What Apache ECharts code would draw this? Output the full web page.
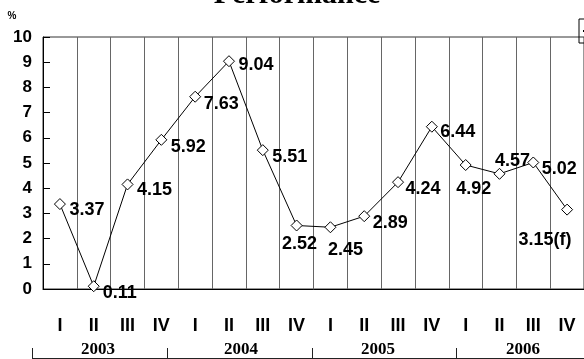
<!DOCTYPE html>
<html>
<head>
<meta charset="utf-8">
<script src="https://cdn.jsdelivr.net/npm/echarts@6/dist/echarts.min.js"></script>
<style>
  html, body { margin: 0; padding: 0; background: #fff; }
  #chart { width: 584px; height: 359px; }
</style>
</head>
<body>
<div id="chart"></div>
<script>
// Quarterly categories, grouped by year
const quarters = ['I', 'II', 'III', 'IV', 'I', 'II', 'III', 'IV',
                  'I', 'II', 'III', 'IV', 'I', 'II', 'III', 'IV'];
const years = ['2003', '2004', '2005', '2006'];

// Quarterly growth, %
const growth = [3.37, 0.11, 4.15, 5.92, 7.63, 9.04, 5.51, 2.52,
                2.45, 2.89, 4.24, 6.44, 4.92, 4.57, 5.02, 3.15];
// Forecast flag appended to a value label
const labelSuffix = ['', '', '', '', '', '', '', '',
                     '', '', '', '', '', '', '', '(f)'];

// Value axis range and step
const yMin = 0, yMax = 10, yStep = 1;

// Label placement (px offset from each marker)
const labelOffsets = [
  [27, 6], [26, 7], [27, 6], [27, 7], [26, 7], [27, 4], [27, 7], [3, 19],
  [15, 23], [26, 7], [25, 7], [26, 5], [8, 24], [13, -13], [26, 7], [-22, 30]
];
// Year caption centres and bracket tick positions along the bottom
const yearCentres = [98, 241, 378, 523];
const bracketTicks = [32, 167, 312, 456];

const chart = echarts.init(document.getElementById('chart'), null, { renderer: 'canvas' });

const seriesData = growth.map((v, i) => ({
  value: v,
  label: { offset: labelOffsets[i] }
}));

const graphics = [
  {
    type: 'text', x: 297, y: -5,
    style: { text: 'Performance', font: 'bold 30px "Liberation Serif"', fill: '#000',
             align: 'center', verticalAlign: 'middle' }
  },
  {
    type: 'text', x: 12, y: 16,
    style: { text: '%', font: 'bold 10px "Liberation Sans"', fill: '#000',
             align: 'center', verticalAlign: 'middle' }
  },
  {
    type: 'line', shape: { x1: bracketTicks[0], y1: 358.5, x2: 584, y2: 358.5 },
    style: { stroke: '#222', lineWidth: 1 }
  }
];
bracketTicks.forEach(x => {
  graphics.push({
    type: 'line', shape: { x1: x + 0.5, y1: 348, x2: x + 0.5, y2: 359 },
    style: { stroke: '#222', lineWidth: 1 }
  });
});
years.forEach((y, i) => {
  graphics.push({
    type: 'text', x: yearCentres[i], y: 350,
    style: { text: y, font: 'bold 17px "Liberation Serif"', fill: '#000',
             align: 'center', verticalAlign: 'middle' }
  });
});

chart.setOption({
  animation: false,
  backgroundColor: '#fff',
  grid: {
    left: 43, top: 37, width: 544, height: 252,
    show: true, borderColor: '#333', borderWidth: 1, backgroundColor: 'transparent'
  },
  legend: {
    left: 579, top: 19,
    padding: [7, 3],
    borderColor: '#000', borderWidth: 1, borderRadius: 0,
    itemWidth: 14, itemHeight: 8,
    textStyle: { fontSize: 10, color: '#000' },
    data: ['Growth']
  },
  xAxis: {
    type: 'category',
    data: quarters,
    boundaryGap: true,
    axisLine: { show: true, lineStyle: { color: '#000', width: 1 } },
    axisTick: { show: false },
    splitLine: { show: true, interval: 0, lineStyle: { color: '#666', width: 1 } },
    axisLabel: {
      interval: 0, margin: 28,
      fontFamily: 'Liberation Sans', fontWeight: 'bold', fontSize: 18, color: '#000'
    }
  },
  yAxis: {
    type: 'value',
    min: yMin, max: yMax, interval: yStep,
    axisLine: { show: true, lineStyle: { color: '#000', width: 1 } },
    axisTick: { show: true, inside: true, length: 7, lineStyle: { color: '#000' } },
    splitLine: { show: false },
    axisLabel: {
      margin: 11, padding: [10, 0, 0, 0],
      fontFamily: 'Liberation Sans', fontWeight: 'bold', fontSize: 17, color: '#000'
    }
  },
  series: [{
    name: 'Growth',
    type: 'line',
    data: seriesData,
    symbol: 'diamond',
    symbolSize: 11,
    showAllSymbol: true,
    lineStyle: { color: '#000', width: 1 },
    itemStyle: { color: '#fff', borderColor: '#000', borderWidth: 1 },
    label: {
      show: true,
      position: 'inside',
      align: 'center', verticalAlign: 'middle',
      fontFamily: 'Liberation Sans', fontWeight: 'bold', fontSize: 18, color: '#000',
      formatter: p => p.value + labelSuffix[p.dataIndex]
    },
    emphasis: { disabled: true }
  }],
  graphic: graphics
});
</script>
</body>
</html>
